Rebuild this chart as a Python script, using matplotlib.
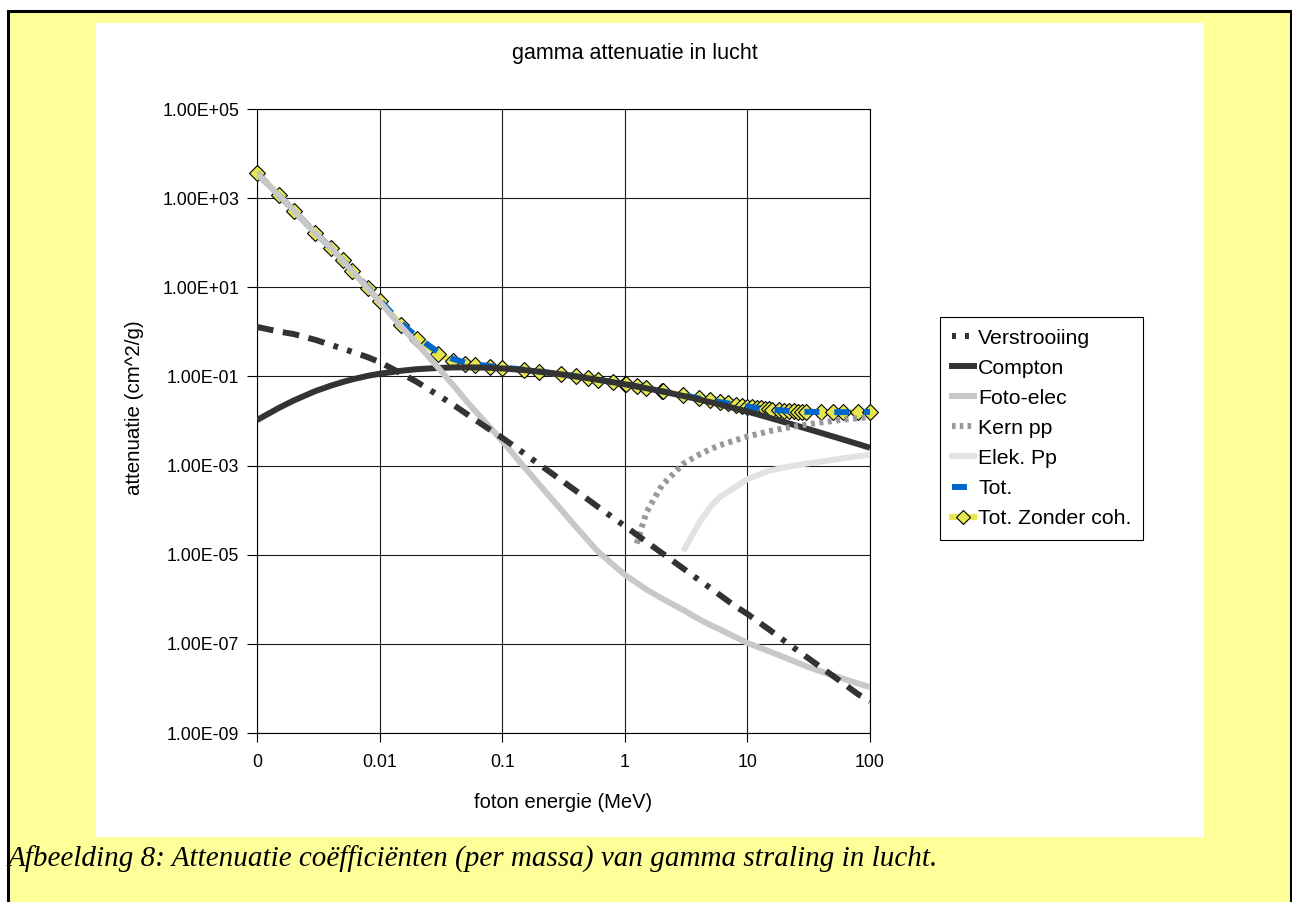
import matplotlib
matplotlib.use("Agg")
import matplotlib.pyplot as plt
from matplotlib.lines import Line2D
from matplotlib.patches import Rectangle
from matplotlib.ticker import NullLocator

plt.rcParams['font.family'] = ['Liberation Sans', 'DejaVu Sans']

# ---------------- data ----------------
energy_comp = [0.001, 0.0015, 0.002, 0.003, 0.004, 0.005, 0.006, 0.008, 0.01, 0.015,
               0.02, 0.03, 0.04, 0.05, 0.06, 0.08, 0.1, 0.15, 0.2, 0.3,
               0.4, 0.5, 0.6, 0.8, 1, 1.5, 2, 3, 4, 5,
               6, 8, 10, 15, 20, 30, 40, 50, 60, 80, 100]

verstrooiing = [1.29, 1.02, 0.89, 0.66, 0.51, 0.42, 0.355, 0.27, 0.21, 0.117,
                0.076, 0.038, 0.023, 0.0151, 0.0107, 6.3e-3, 4.2e-3, 1.9e-3, 1.07e-3, 4.8e-4,
                2.7e-4, 1.74e-4, 1.2e-4, 6.8e-5, 4.4e-5, 1.95e-5, 1.1e-5, 4.9e-6, 2.75e-6, 1.78e-6,
                1.23e-6, 6.9e-7, 4.7e-7, 2.1e-7, 1.17e-7, 5.2e-8, 2.95e-8, 1.9e-8, 1.32e-8, 7.4e-9, 5.2e-9]

compton = [0.0105, 0.0195, 0.029, 0.047, 0.062, 0.075, 0.086, 0.103, 0.115, 0.134,
           0.145, 0.155, 0.159, 0.160, 0.159, 0.156, 0.151, 0.139, 0.128, 0.112,
           0.100, 0.0913, 0.0844, 0.0742, 0.0667, 0.0543, 0.0463, 0.0365, 0.0305, 0.0264,
           0.0234, 0.0191, 0.0163, 0.0119, 0.00945, 0.00681, 0.00539, 0.00449, 0.00386, 0.00303, 0.00251]

foto_elec = [3600, 1175, 525, 162, 77.6, 39.8, 22.9, 9.55, 4.79, 1.32,
             0.56, 0.158, 0.063, 0.030, 0.017, 7.1e-3, 3.55e-3, 9.5e-4, 3.8e-4, 1.05e-4,
             4.2e-5, 2.1e-5, 1.2e-5, 6.0e-6, 3.55e-6, 1.66e-6, 1.05e-6, 5.75e-7, 3.63e-7, 2.63e-7,
             2.09e-7, 1.41e-7, 1.05e-7, 6.8e-8, 5.0e-8, 3.16e-8, 2.4e-8, 1.95e-8, 1.66e-8, 1.29e-8, 1.07e-8]

energy_kern = [1.25, 1.5, 2, 3, 4, 5, 6, 8, 10, 15, 20, 30, 40, 50, 60, 80, 100]
kern_pp = [1.78e-5, 8.9e-5, 3.55e-4, 1.1e-3, 1.74e-3, 2.34e-3, 2.88e-3, 3.72e-3, 4.47e-3,
           5.9e-3, 6.9e-3, 8.3e-3, 9.3e-3, 1.0e-2, 1.07e-2, 1.15e-2, 1.23e-2]

energy_elek = [3, 4, 5, 6, 8, 10, 15, 20, 30, 40, 50, 60, 80, 100]
elek_pp = [1.2e-5, 5.0e-5, 1.2e-4, 2.0e-4, 3.3e-4, 5.0e-4, 7.6e-4, 9.1e-4, 1.1e-3,
           1.23e-3, 1.35e-3, 1.45e-3, 1.62e-3, 1.74e-3]

energy_tot = [0.001, 0.0015, 0.002, 0.003, 0.004, 0.005, 0.006, 0.008, 0.01, 0.015,
              0.02, 0.03, 0.04, 0.05, 0.06, 0.08, 0.1, 0.15, 0.2, 0.3,
              0.4, 0.5, 0.6, 0.8, 1, 1.022, 1.25, 1.5, 2, 2.044,
              3, 4, 5, 6, 7, 8, 9, 10, 11, 12,
              13, 14, 15, 16, 18, 20, 22, 24, 26, 28,
              30, 40, 50, 60, 80, 100]

tot = [3601, 1176, 526, 162.7, 78.2, 40.3, 23.4, 9.92, 5.11, 1.57,
       0.78, 0.351, 0.245, 0.205, 0.187, 0.169, 0.159, 0.142, 0.129, 0.1125,
       0.1003, 0.0915, 0.0845, 0.0743, 0.0667, 0.0662, 0.0600, 0.0545, 0.0467, 0.0462,
       0.0376, 0.0323, 0.0289, 0.0265, 0.0247, 0.0232, 0.0220, 0.0211, 0.0203, 0.0197,
       0.0191, 0.0187, 0.0183, 0.0180, 0.0175, 0.0171, 0.0168, 0.0165, 0.0163, 0.0162,
       0.0161, 0.0159, 0.0158, 0.0158, 0.0159, 0.0160]

tot_zonder_coh = [3600, 1175, 525, 162, 77.7, 39.9, 23.0, 9.65, 4.9, 1.45,
                  0.705, 0.313, 0.222, 0.190, 0.176, 0.163, 0.155, 0.140, 0.128, 0.112,
                  0.100, 0.0913, 0.0844, 0.0742, 0.0667, 0.0662, 0.0600, 0.0545, 0.0467, 0.0462,
                  0.0376, 0.0323, 0.0289, 0.0265, 0.0247, 0.0232, 0.0220, 0.0211, 0.0203, 0.0197,
                  0.0191, 0.0187, 0.0183, 0.0180, 0.0175, 0.0171, 0.0168, 0.0165, 0.0163, 0.0162,
                  0.0161, 0.0159, 0.0158, 0.0158, 0.0159, 0.0160]

xtick_vals = [0.001, 0.01, 0.1, 1, 10, 100]
xtick_labels = ['0', '0.01', '0.1', '1', '10', '100']
ytick_vals = [1e-9, 1e-7, 1e-5, 1e-3, 1e-1, 1e1, 1e3, 1e5]
ytick_labels = ['1.00E-09', '1.00E-07', '1.00E-05', '1.00E-03',
                '1.00E-01', '1.00E+01', '1.00E+03', '1.00E+05']

series_labels = ['Verstrooiing', 'Compton', 'Foto-elec', 'Kern pp', 'Elek. Pp',
                 'Tot.', 'Tot. Zonder coh.']

title = 'gamma attenuatie in lucht'
xlabel = 'foton energie (MeV)'
ylabel = 'attenuatie (cm^2/g)'
caption = 'Afbeelding 8: Attenuatie coëfficiënten (per massa) van gamma straling in lucht.'

# ---------------- figure ----------------
W, H = 1292, 902
fig = plt.figure(figsize=(W / 100, H / 100), dpi=100)
fig.patch.set_facecolor('white')

# yellow page with black border
fig.add_artist(Rectangle((7.5 / W, -0.05), (1290.5 - 7.5) / W, 1.05 - 11.5 / H,
                         transform=fig.transFigure, facecolor='#FFFF99',
                         edgecolor='black', lw=2.2, zorder=-3))
# white chart area
fig.add_artist(Rectangle((96 / W, 1 - 837 / H), (1204 - 96) / W, (837 - 23) / H,
                         transform=fig.transFigure, facecolor='white',
                         edgecolor='none', zorder=-2))

ax = fig.add_axes([257 / W, 1 - 733 / H, (870 - 257) / W, (733 - 109) / H])
ax.set_zorder(1)
ax.set_facecolor('none')
ax.set_xscale('log')
ax.set_yscale('log')
ax.set_xlim(0.001, 100)
ax.set_ylim(1e-9, 1e5)
ax.set_xticks(xtick_vals)
ax.set_xticklabels(xtick_labels)
ax.set_yticks(ytick_vals)
ax.set_yticklabels(ytick_labels)
ax.xaxis.set_minor_locator(NullLocator())
ax.yaxis.set_minor_locator(NullLocator())
ax.tick_params(axis='x', direction='out', length=6.5, width=0.8, labelsize=12.8,
               pad=8.6, colors='black')
ax.tick_params(axis='y', direction='out', length=7, width=0.8, labelsize=12.8,
               pad=5.8, colors='black')
ax.grid(True, which='major', color='#1a1a1a', lw=0.8)
ax.set_axisbelow(True)
for sp in ax.spines.values():
    sp.set_color('black')
    sp.set_linewidth(0.8)

LW = 4.3  # ~6 px
MS = 8.0

# Tot. Zonder coh. (yellow line with diamonds) - bottom
ax.plot(energy_tot, tot_zonder_coh, color='#E6E64E', lw=LW, marker='D',
        markersize=MS, markerfacecolor='#E6E64E', markeredgecolor='black',
        markeredgewidth=0.8, zorder=3, clip_on=False)
# Tot. (blue dashed)
ax.plot(energy_tot, tot, color='#0066CC', lw=LW, linestyle=(0, (2.5, 2.5)),
        dash_capstyle='butt', zorder=4)
# Compton
ax.plot(energy_comp, compton, color='#333333', lw=LW, zorder=5,
        solid_capstyle='butt')
# Foto-elec
ax.plot(energy_comp, foto_elec, color='#C8C8C8', lw=LW, zorder=6,
        solid_capstyle='butt')
# Kern pp (dotted)
ax.plot(energy_kern, kern_pp, color='#999999', lw=LW, linestyle=(0, (0.67, 0.75)),
        dash_capstyle='butt', zorder=7)
# Elek. Pp
ax.plot(energy_elek, elek_pp, color='#E2E2E2', lw=LW, zorder=8,
        solid_capstyle='butt')
# Verstrooiing (long dash, dash, dash, dot, dot)
ax.plot(energy_comp, verstrooiing, color='#333333', lw=LW,
        linestyle=(0, (2.8, 1.6, 2.8, 1.6, 2.8, 1.6, 0.8, 1.6, 0.8, 1.6)),
        dash_capstyle='butt', zorder=9)

# labels
fig.text(635 / W, 1 - 54 / H, title, ha='center', va='center', fontsize=15.5)
ax.set_xlabel(xlabel, fontsize=14.5, va='center')
ax.xaxis.set_label_coords(0.5, -(802 - 733) / 624)
ax.set_ylabel(ylabel, fontsize=14.8, va='center')
ax.yaxis.set_label_coords((135 - 257) / 613, (733 - 408) / 624)

# legend
handles = [
    Line2D([], [], color='#333333', lw=LW, linestyle=(0.0, (0.67, 1.5)), dash_capstyle='butt'),
    Line2D([], [], color='#333333', lw=LW),
    Line2D([], [], color='#C8C8C8', lw=LW),
    Line2D([], [], color='#999999', lw=LW, linestyle=(0.0, (0.6, 0.7)), dash_capstyle='butt'),
    Line2D([], [], color='#E2E2E2', lw=LW),
    Line2D([], [], color='#0066CC', lw=LW, linestyle=(0, (2.5, 2.5)), dash_capstyle='butt'),
    Line2D([], [], color='#E6E64E', lw=LW, marker='D', markersize=MS * 0.85,
           markerfacecolor='#E6E64E', markeredgecolor='black', markeredgewidth=0.8),
]
leg = fig.legend(handles, series_labels, loc='upper left',
                 bbox_to_anchor=(940 / W, 1 - 317 / H), bbox_transform=fig.transFigure,
                 frameon=True, fancybox=False, edgecolor='black', facecolor='white',
                 framealpha=1, fontsize=15.3, handlelength=1.04, handletextpad=0.2,
                 labelspacing=0.52, borderpad=0.55, borderaxespad=0)
leg.get_frame().set_linewidth(0.8)
leg.set_zorder(20)

# caption
fig.text(8 / W, 1 - 867 / H, caption, ha='left', va='baseline',
         family=['Liberation Serif', 'DejaVu Serif'], style='italic', fontsize=21)

fig.savefig('out.png', dpi=100, facecolor=fig.get_facecolor())
